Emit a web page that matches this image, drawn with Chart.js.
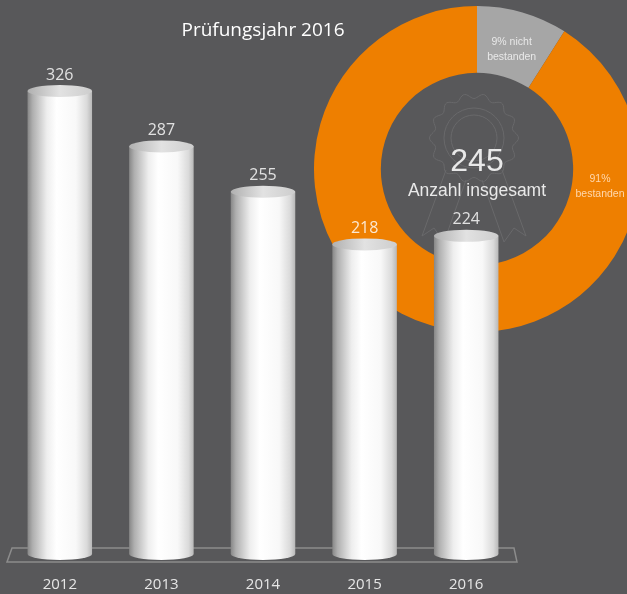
<!DOCTYPE html>
<html lang="de">
  <head>
    <meta charset="utf-8" />
    <title>Prüfungsjahr 2016</title>
    <style>
      html,
      body {
        margin: 0;
        padding: 0;
        overflow: hidden;
        background: #58585a;
      }
      .wrap {
        position: relative;
        width: 627px;
        height: 594px;
      }
      #ring {
        position: absolute;
        left: 314px;
        top: 6px;
      }
      #bars {
        position: absolute;
        left: 0;
        top: 0;
      }
    </style>
  </head>
  <body>
    <div class="wrap">
      <canvas id="ring" width="326" height="326"></canvas>
      <canvas id="bars" width="627" height="594"></canvas>
    </div>

    <script src="https://cdn.jsdelivr.net/npm/chart.js@4.4.0/dist/chart.umd.min.js"></script>

    <script>
      // data block
      const years = ["2012", "2013", "2014", "2015", "2016"];
      const candidates = [326, 287, 255, 218, 224];
      const resultNames = ["nicht bestanden", "bestanden"];
      const resultShares = [9, 91];
      const resultText = [["9% nicht", "bestanden"], ["91%", "bestanden"]];
      const totalCandidates = 245;

      const FONT = "'Open Sans', sans-serif";
      const SANS = "'Liberation Sans', Arial, sans-serif";

      // cylinders + platform plugin
      const cylinders = {
        id: "cylinders",
        beforeDatasetsDraw(chart) {
          const { ctx, chartArea: { left, right }, scales: { y } } = chart;
          const base = y.getPixelForValue(0);
          ctx.save();
          ctx.strokeStyle = "#8c8c8c";
          ctx.lineWidth = 1.5;
          ctx.beginPath();
          ctx.moveTo(left + 3, base - 6);
          ctx.lineTo(right - 3, base - 6);
          ctx.lineTo(right, base + 8);
          ctx.lineTo(left - 2, base + 8);
          ctx.closePath();
          ctx.stroke();
          ctx.restore();
        },
        afterDatasetsDraw(chart) {
          const ctx = chart.ctx;
          const meta = chart.getDatasetMeta(0);
          ctx.save();
          meta.data.forEach((bar, i) => {
            const { x, y, base, width } = bar.getProps(["x", "y", "base", "width"], true);
            const rx = width / 2;
            const ry = 6;

            // body
            const g = ctx.createLinearGradient(x - rx, 0, x + rx, 0);
            g.addColorStop(0, "#878787");
            g.addColorStop(0.08, "#afafaf");
            g.addColorStop(0.3, "#eeeeee");
            g.addColorStop(0.45, "#ffffff");
            g.addColorStop(0.75, "#f8f8f8");
            g.addColorStop(0.92, "#dadada");
            g.addColorStop(1, "#b8b8b8");
            ctx.fillStyle = g;
            ctx.beginPath();
            ctx.moveTo(x - rx, y);
            ctx.lineTo(x - rx, base);
            ctx.ellipse(x, base, rx, ry, 0, Math.PI, 0, true);
            ctx.lineTo(x + rx, y);
            ctx.closePath();
            ctx.fill();

            // top cap
            const t = ctx.createLinearGradient(x - rx, 0, x + rx, 0);
            t.addColorStop(0, "#b0b0b0");
            t.addColorStop(0.5, "#e2e2e2");
            t.addColorStop(1, "#cdcdcd");
            ctx.fillStyle = t;
            ctx.beginPath();
            ctx.ellipse(x, y, rx, ry, 0, 0, Math.PI * 2);
            ctx.fill();

            // value label
            ctx.font = "16px " + FONT;
            ctx.textAlign = "center";
            ctx.textBaseline = "middle";
            ctx.fillStyle = "rgba(255,255,255,0.82)";
            ctx.fillText(candidates[i], x, y - ry - 10);
          });
          ctx.restore();
        },
      };

      // ring text plugin
      const ringText = {
        id: "ringText",
        beforeDatasetsDraw(chart) {
          const arc = chart.getDatasetMeta(0).data[0];
          const cx = arc.x;
          const cy = arc.y;
          const ctx = chart.ctx;
          ctx.save();
          ctx.strokeStyle = "#69696b";
          ctx.lineWidth = 1;
          // rosette outline
          const rx0 = cx - 3;
          const ry0 = cy - 31;
          ctx.beginPath();
          for (let a = 0; a <= 360; a += 2) {
            const r = 42 + 2.5 * Math.cos((a * 14 * Math.PI) / 180);
            const px = rx0 + r * Math.cos((a * Math.PI) / 180);
            const py = ry0 + r * Math.sin((a * Math.PI) / 180);
            a === 0 ? ctx.moveTo(px, py) : ctx.lineTo(px, py);
          }
          ctx.stroke();
          ctx.beginPath();
          ctx.arc(rx0, ry0, 30, 0, Math.PI * 2);
          ctx.stroke();
          ctx.beginPath();
          ctx.arc(rx0, ry0, 23, 0, Math.PI * 2);
          ctx.stroke();
          // ribbons
          ctx.beginPath();
          ctx.moveTo(rx0 - 28, ry0 + 32);
          ctx.lineTo(rx0 - 52, ry0 + 98);
          ctx.lineTo(rx0 - 40, ry0 + 90);
          ctx.lineTo(rx0 - 30, ry0 + 104);
          ctx.lineTo(rx0 - 8, ry0 + 42);
          ctx.moveTo(rx0 + 28, ry0 + 32);
          ctx.lineTo(rx0 + 52, ry0 + 98);
          ctx.lineTo(rx0 + 40, ry0 + 90);
          ctx.lineTo(rx0 + 30, ry0 + 104);
          ctx.lineTo(rx0 + 8, ry0 + 42);
          ctx.stroke();
          ctx.restore();
        },
        afterDraw(chart) {
          const ctx = chart.ctx;
          const arcs = chart.getDatasetMeta(0).data;
          const cx = arcs[0].x;
          const cy = arcs[0].y;
          ctx.save();
          ctx.textAlign = "center";
          ctx.textBaseline = "middle";

          // centre
          ctx.fillStyle = "#e9e9e9";
          ctx.font = "32px " + SANS;
          ctx.fillText(totalCandidates, cx, cy - 7);
          ctx.font = "17.5px " + SANS;
          ctx.fillText("Anzahl insgesamt", cx, cy + 22);

          // segment labels
          ctx.font = "10.5px " + SANS;
          arcs.forEach((arc, i) => {
            const { startAngle, endAngle, innerRadius, outerRadius } = arc.getProps(
              ["startAngle", "endAngle", "innerRadius", "outerRadius"],
              true
            );
            const ang = i === 0 ? (startAngle + endAngle) / 2 : -Math.PI / 2 + (98 * Math.PI) / 180;
            const r = innerRadius + (outerRadius - innerRadius) * 0.42;
            const lx = cx + r * Math.cos(ang);
            const ly = cy + r * Math.sin(ang);
            ctx.fillStyle = i === 0 ? "rgba(240,240,240,0.9)" : "#ffd8ad";
            resultText[i].forEach((line, k) => {
              ctx.fillText(line, lx, ly + (k - 0.5) * 15);
            });
          });
          ctx.restore();
        },
      };

      // ring chart
      new Chart(document.getElementById("ring"), {
        type: "doughnut",
        data: {
          labels: resultNames,
          datasets: [
            {
              data: resultShares,
              backgroundColor: ["#a6a6a6", "#ee7f00"],
              borderWidth: 0,
            },
          ],
        },
        options: {
          responsive: false,
          animation: false,
          cutout: "59%",
          layout: { padding: 0 },
          plugins: {
            legend: { display: false },
            tooltip: { enabled: false },
          },
        },
        plugins: [ringText],
      });

      // bar chart
      new Chart(document.getElementById("bars"), {
        type: "bar",
        data: {
          labels: years,
          datasets: [
            {
              label: "Prüfungsteilnehmer",
              data: candidates,
              backgroundColor: "rgba(0,0,0,0)",
              borderWidth: 0,
              barPercentage: 0.635,
              categoryPercentage: 1,
            },
          ],
        },
        options: {
          responsive: false,
          animation: false,
          layout: { padding: { left: 9, right: 110, top: 0, bottom: 0 } },
          plugins: {
            legend: { display: false },
            tooltip: { enabled: false },
            title: {
              display: true,
              fullSize: false,
              text: "Prüfungsjahr 2016",
              color: "#ffffff",
              font: { family: FONT, size: 19, weight: "normal" },
              padding: { top: 19, bottom: 8 },
            },
          },
          scales: {
            x: {
              grid: { display: false, drawTicks: false },
              border: { display: false },
              ticks: { color: "#e6e6e6", font: { family: FONT, size: 15 }, padding: 22 },
              afterFit(scale) {
                scale.height = 40;
              },
            },
            y: { display: false, min: 0, max: 355 },
          },
        },
        plugins: [cylinders],
      });
    </script>
  </body>
</html>
